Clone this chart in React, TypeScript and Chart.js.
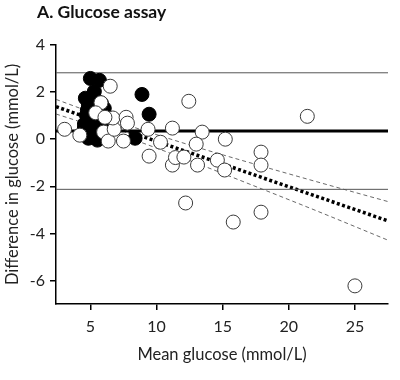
import React, { useEffect, useRef } from "react";
import { Chart, registerables } from "chart.js";

Chart.register(...registerables);

// Open circles (one group)
const openX = [3.05, 4.2, 6.5, 5.8, 5.4, 6.0, 6.35, 6.8, 6.7, 6.1, 7.7, 7.8, 7.5, 9.36, 9.44, 10.3, 11.2, 11.2, 12.44, 13.45, 15.2, 13.0, 11.43, 12.07, 13.1, 14.6, 15.15, 17.9, 17.9, 12.2, 15.8, 17.9, 21.4, 25.0];
const openY = [0.42, 0.17, 2.25, 1.55, 1.12, 0.3, -0.08, 0.42, 0.9, 0.93, 0.93, 0.68, -0.08, 0.42, -0.72, -0.13, 0.47, -1.1, 1.61, 0.3, 0.0, -0.21, -0.78, -0.76, -1.1, -0.89, -1.31, -0.55, -1.1, -2.71, -3.52, -3.1, 0.97, -6.23];

// Filled circles (other group)
const filledX = [5.0, 5.68, 5.3, 4.62, 8.9, 9.44, 8.38, 4.85, 5.38, 6.05, 4.7, 5.15, 5.68, 6.2, 4.55, 5.0, 5.45, 5.9, 4.7, 5.15, 5.6, 4.85, 5.3, 4.77, 5.75, 5.07, 4.55, 5.38, 5.68, 6.2, 5.45, 5.83, 5.07, 5.53, 5.07, 5.98];
const filledY = [2.58, 2.5, 2.03, 1.74, 1.9, 1.06, 0.04, 1.44, 1.48, 1.31, 1.02, 1.14, 0.97, 0.97, 0.64, 0.72, 0.55, 0.72, 0.3, 0.38, 0.21, 0.04, 0.08, 1.23, 1.23, 0.89, 0.47, 0.8, 0.55, 0.64, 1.65, 1.53, 0.55, -0.04, 1.65, 0.51];

// Bland-Altman reference lines
const lineX = [2.4, 27.5];
const meanBias = 0.35;
const upperLoA = 2.82;
const lowerLoA = -2.13;
const regY = [1.38, -3.47];

// Confidence band of regression line
const ciX = [2.4, 7, 12, 17, 22, 27.5];
const ciUpper = [1.69, 0.75, -0.16, -0.99, -1.79, -2.65];
const ciLower = [1.07, 0.23, -0.8, -1.9, -3.02, -4.29];

const xTicks = [5, 10, 15, 20, 25];
const yTicks = [-6, -4, -2, 0, 2, 4];

const FONT = "Lato, 'Open Sans', sans-serif";

export default function App() {
  const ref = useRef<HTMLCanvasElement | null>(null);

  useEffect(() => {
    const canvas = ref.current;
    if (!canvas) return;

    const titlePlugin = {
      id: "panelTitle",
      afterDraw(chart: any) {
        const ctx = chart.ctx;
        ctx.save();
        ctx.font = `bold 17.5px ${FONT}`;
        ctx.fillStyle = "#111";
        ctx.textAlign = "left";
        ctx.textBaseline = "alphabetic";
        ctx.fillText("A. Glucose assay", 37, 18);
        ctx.restore();
      },
    };

    const pts = (xs: number[], ys: number[]) => xs.map((x, i) => ({ x, y: ys[i] }));
    const hline = (v: number) => lineX.map((x) => ({ x, y: v }));

    const chart = new Chart(canvas, {
      type: "scatter",
      data: {
        datasets: [
          {
            label: "open",
            data: pts(openX, openY),
            backgroundColor: "#ffffff",
            borderColor: "#3a3a3a",
            borderWidth: 1,
            pointRadius: 7,
            order: 0,
          },
          {
            label: "filled",
            data: pts(filledX, filledY),
            backgroundColor: "#000000",
            borderColor: "#000000",
            borderWidth: 1,
            pointRadius: 7,
            order: 1,
          },
          {
            label: "mean",
            data: hline(meanBias),
            showLine: true,
            borderColor: "#000",
            borderWidth: 3,
            pointRadius: 0,
            order: 2,
          },
          {
            label: "upper",
            data: hline(upperLoA),
            showLine: true,
            borderColor: "#555",
            borderWidth: 1,
            pointRadius: 0,
            order: 3,
          },
          {
            label: "lower",
            data: hline(lowerLoA),
            showLine: true,
            borderColor: "#555",
            borderWidth: 1,
            pointRadius: 0,
            order: 4,
          },
          {
            label: "regression",
            data: pts(lineX, regY),
            showLine: true,
            borderColor: "#000",
            borderWidth: 3.5,
            borderDash: [3, 2.5],
            pointRadius: 0,
            order: 5,
          },
          {
            label: "ciUpper",
            data: pts(ciX, ciUpper),
            showLine: true,
            borderColor: "#444",
            borderWidth: 0.8,
            borderDash: [4, 3],
            cubicInterpolationMode: "monotone",
            pointRadius: 0,
            order: 6,
          },
          {
            label: "ciLower",
            data: pts(ciX, ciLower),
            showLine: true,
            borderColor: "#444",
            borderWidth: 0.8,
            borderDash: [4, 3],
            cubicInterpolationMode: "monotone",
            pointRadius: 0,
            order: 7,
          },
        ],
      },
      options: {
        animation: false,
        responsive: false,
        layout: { padding: { top: 45, right: 12, left: 0, bottom: 0 } },
        plugins: {
          legend: { display: false },
          tooltip: { enabled: false },
          title: { display: false },
        },
        scales: {
          x: {
            type: "linear",
            min: 2.4,
            max: 27.5,
            afterFit(scale: any) {
              scale.height = 76;
            },
            afterBuildTicks(scale: any) {
              scale.ticks = xTicks.map((v) => ({ value: v }));
            },
            border: { display: true, color: "#000", width: 1.5 },
            grid: { display: true, drawOnChartArea: false, drawTicks: true, tickLength: 6, color: "#000", lineWidth: 1.5 },
            ticks: { color: "#222", font: { family: FONT, size: 16 }, padding: 7, maxRotation: 0 },
            title: {
              display: true,
              text: "Mean glucose (mmol/L)",
              color: "#222",
              font: { family: FONT, size: 16.5 },
              padding: { top: 0, bottom: 15 },
            },
          },
          y: {
            type: "linear",
            min: -7,
            max: 4,
            afterFit(scale: any) {
              scale.width = 56;
            },
            afterBuildTicks(scale: any) {
              scale.ticks = yTicks.map((v) => ({ value: v }));
            },
            border: { display: true, color: "#000", width: 1.5 },
            grid: { display: true, drawOnChartArea: false, drawTicks: true, tickLength: 6, color: "#000", lineWidth: 1.5 },
            ticks: { color: "#222", font: { family: FONT, size: 16 }, padding: 5 },
            title: {
              display: true,
              text: "Difference in glucose (mmol/L)",
              color: "#222",
              font: { family: FONT, size: 16.5 },
              padding: { top: 3, bottom: 0 },
            },
          },
        },
      },
      plugins: [titlePlugin],
    } as any);

    return () => chart.destroy();
  }, []);

  return (
    <div style={{ position: "absolute", left: 0, top: 0, width: 400, height: 380, background: "#fff" }}>
      <canvas ref={ref} width={400} height={380} style={{ width: 400, height: 380, display: "block" }} />
    </div>
  );
}
